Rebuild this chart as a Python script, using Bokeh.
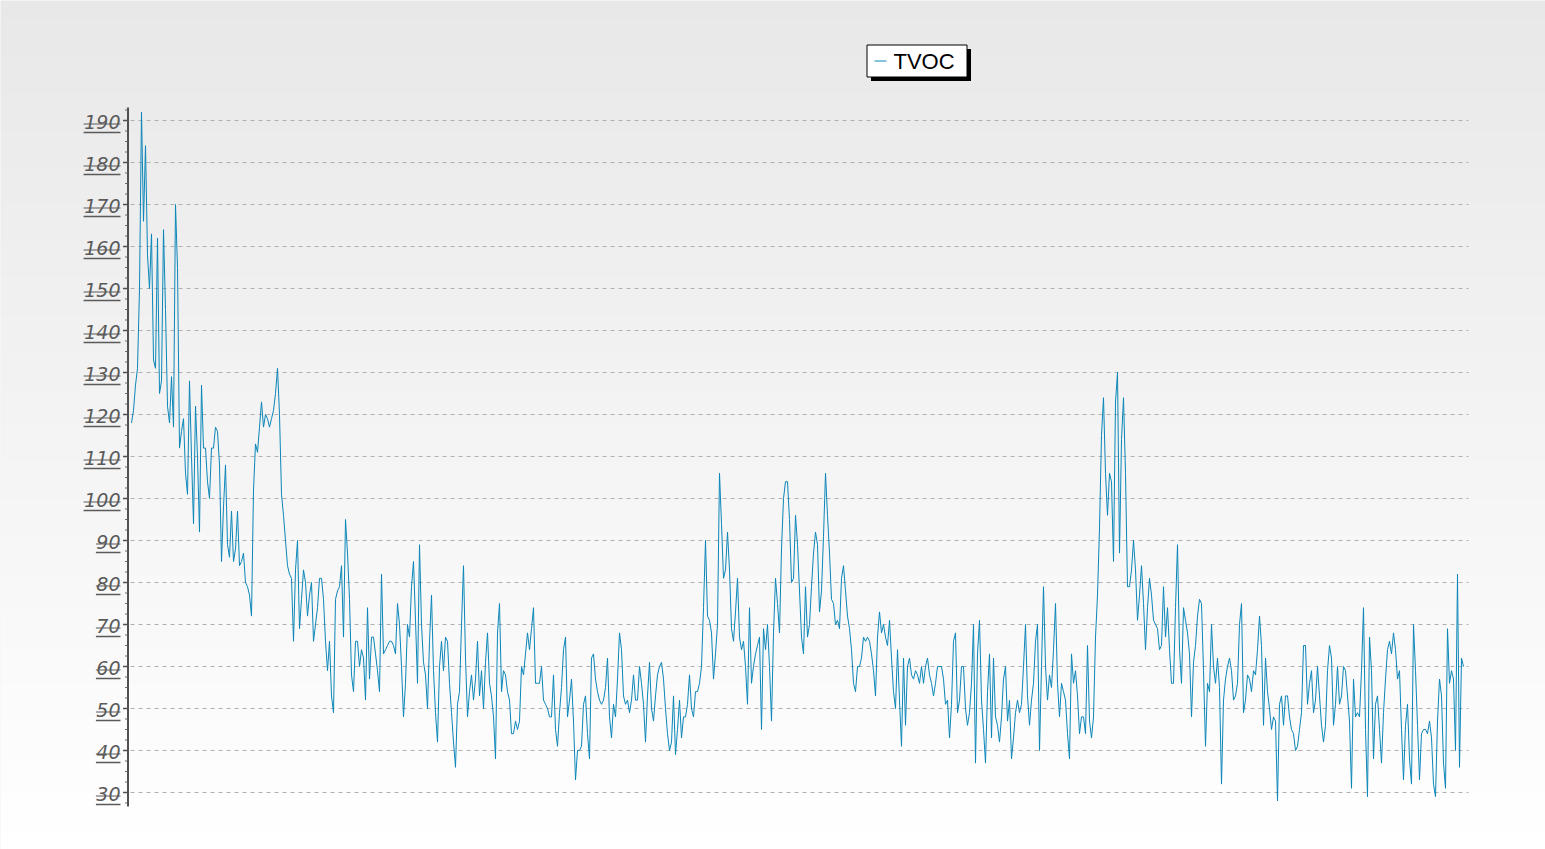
import numpy as np
from bokeh.plotting import figure
from bokeh.models import Range1d
from bokeh.embed import file_html
from bokeh.resources import INLINE
from bokeh.core.properties import value

# ---------------- data ----------------
series_name = "TVOC"

tvoc_part1 = [
    118, 121, 127, 131, 150, 192, 166, 184, 158, 150,
    163, 133, 131, 162, 125, 128, 164, 145, 122, 118,
    129, 117, 170, 155, 112, 116, 119, 106, 101, 128,
    110, 94, 122, 110, 92, 127, 112, 112, 104, 100,
    112, 112, 117, 116, 108, 85, 98, 108, 89, 86,
    97, 85, 88, 97, 84, 85, 87, 80, 79, 77,
    72, 102, 113, 111, 117, 123, 117, 120, 119, 117,
    119, 121, 125, 131, 120, 101, 96, 90, 84,
]
tvoc_part2 = [
    82, 81, 66, 83, 90, 69, 76, 83, 80, 72,
    77, 80, 66, 70, 74, 81, 81, 76, 66, 59,
    66, 53, 49, 76, 78, 79, 84, 67, 95, 87,
    76, 58, 54, 66, 66, 60, 64, 62, 52, 74,
    57, 67, 67, 63, 59, 54, 82, 63, 64, 65,
    66, 66, 65, 63, 75, 70, 60, 48, 56, 70,
    67, 79, 85, 71, 56, 89, 70, 61, 58, 50,
    66, 77, 59, 49, 42, 60, 66, 59, 67, 66,
    56, 49, 42, 36, 51, 54, 70, 84, 62, 48,
    54, 58, 52, 57, 66, 53, 59, 50, 61, 68,
    56, 53, 48, 38, 68, 75, 54, 59, 58, 54,
    52, 44, 44, 47, 45, 47,
]
tvoc_part3 = [
    60, 58, 63, 68, 64, 69, 74, 56, 56, 56,
    60, 52, 51, 50, 48, 48, 58, 45, 41, 49,
    55, 64, 67, 48, 52, 57, 47, 33, 40, 40,
    41, 51, 53, 44, 38, 62, 63, 57, 54, 52,
    51, 52, 55, 62, 48, 43, 51, 48, 57, 68,
    64, 53, 51, 52, 49, 52, 58, 52, 52, 60,
    56, 51, 42, 53, 61, 50, 47, 53, 58, 60,
    61, 57, 50, 44, 40, 42, 53, 39, 45, 52,
    43, 48, 48, 51, 58, 50, 48, 54, 54, 56,
    60, 74, 90, 72, 71, 68, 57, 63, 70, 106,
    94, 81, 83, 92, 83, 69, 66, 73, 81, 67,
]
tvoc_part4 = [
    64, 66, 60, 51, 74, 56, 60, 63, 65, 67,
    45, 69, 64, 70, 60, 47, 68, 81, 75, 68,
    88, 100, 104, 104, 95, 80, 81, 96, 89, 78,
    67, 63, 79, 67, 70, 79, 87, 92, 89, 73,
    78, 91, 106, 96, 87, 76, 75, 70, 71, 69,
    81, 84, 78, 72, 69, 64, 56, 54, 60, 60,
    62, 67, 66, 67, 66, 63, 59, 53, 67, 73,
    68, 70, 67, 65, 71, 62, 54, 50, 64, 52,
    41, 62, 46, 60, 62, 58, 57, 59, 58, 56,
    60, 56, 60, 62, 58, 56, 53, 56, 60, 60,
    60, 57, 51, 52, 43, 51, 66, 68, 49, 52,
    60, 60, 50, 46, 49,
]
tvoc_part5 = [
    56, 70, 37, 63, 71, 52, 45, 37, 54, 63,
    43, 62, 48, 46, 42, 48, 57, 60, 47, 52,
    38, 43, 49, 52, 49, 51, 60, 70, 53, 46,
    52, 56, 66, 70, 40, 60, 79, 60, 52, 58,
    55, 64, 75, 56, 48, 56, 54, 52, 44, 38,
    63, 56, 59, 53, 44, 48, 48, 44, 65, 47,
    43, 48, 67, 77, 93, 115, 124, 106, 96, 106,
    104, 85, 123, 130, 87, 114, 124, 106, 79, 79,
    83, 90, 83, 71, 77, 84, 75, 64, 74, 81,
    77, 71, 70, 69, 64, 65, 79, 67, 74, 64,
    56, 56, 74, 89, 64, 56, 74, 71, 68, 63,
    48, 61, 65, 72, 76,
]
tvoc_part6 = [
    75, 59, 41, 56, 54, 70, 60, 56, 62, 55,
    32, 52, 57, 60, 62, 59, 52, 53, 56, 70,
    75, 49, 52, 58, 57, 54, 59, 58, 64, 72,
    65, 46, 62, 54, 50, 45, 48, 47, 28, 51,
    53, 46, 53, 53, 48, 45, 44, 40, 41, 45,
    49, 65, 65, 51, 56, 59, 49, 52, 60, 53,
    46, 42, 46, 59, 65, 62, 46, 51, 60, 51,
    53, 60, 59, 53, 47, 31, 57, 48, 49, 48,
    59, 74, 45, 29, 67, 59, 38, 51, 53, 45,
    37, 49, 57, 64, 66, 63, 68, 64, 57, 59,
    45, 33, 46, 51, 38, 32, 70, 59, 46, 33,
    44, 45, 45, 44, 47, 43, 32, 29, 47, 57,
    53, 37, 31, 69, 56, 59, 57, 40, 82, 36,
    62, 60,
]

tvoc = tvoc_part1 + tvoc_part2 + tvoc_part3 + tvoc_part4 + tvoc_part5 + tvoc_part6
sample = list(range(len(tvoc)))

y_ticks = [30, 40, 50, 60, 70, 80, 90, 100, 110, 120, 130, 140, 150, 160, 170, 180, 190]
y_tick_labels = [str(t) for t in y_ticks]

# ---------------- layout ----------------
W, H = 1545, 849
PAGE = 0                     # canvas origin on the page
X0_PAGE, DX = 131.0, 2.0     # page x of the first sample, px per sample
Y_REF_PAGE, Y_REF_VAL, PPU = 120.0, 190.0, 4.2


def xd(px):
    return (px - X0_PAGE) / DX


def yd(py):
    return Y_REF_VAL - (py - Y_REF_PAGE) / PPU


p = figure(width=W, height=H,
           x_range=Range1d(xd(PAGE), xd(PAGE + W)),
           y_range=Range1d(yd(PAGE + H), yd(PAGE)),
           output_backend="svg", toolbar_location=None,
           x_axis_type=None, y_axis_type=None,
           min_border=0, outline_line_color=None,
           background_fill_color="#f0f0f0", border_fill_color="#f0f0f0")
p.grid.visible = False

# background gradient (light grey at top -> white at bottom)
rows = 240
img = np.empty((rows, 1), dtype=np.uint32)
view = img.view(dtype=np.uint8).reshape((rows, 1, 4))
for r in range(rows):
    page_y = PAGE + H - (r + 0.5) * H / rows
    g = int(round(232 + 23 * page_y / 849))
    view[r, 0, 0] = g
    view[r, 0, 1] = g
    view[r, 0, 2] = g
    view[r, 0, 3] = 255
p.image_rgba(image=[img], x=xd(PAGE), y=yd(PAGE + H),
             dw=xd(PAGE + W) - xd(PAGE), dh=yd(PAGE) - yd(PAGE + H))

# dashed horizontal grid
n = len(y_ticks)
p.segment(x0=[xd(130)] * n, x1=[xd(1468)] * n, y0=y_ticks, y1=y_ticks,
          line_color="#b0b0b0", line_width=1, line_dash="4 4")

# data line
line_color = "#0b86b8"
p.line(sample, tvoc, line_color=line_color, line_width=1)

# y axis line
ax_col = "#505050"
p.segment(x0=[xd(127.5)], x1=[xd(127.5)], y0=[yd(806)], y1=[yd(107)],
          line_color=ax_col, line_width=2)
# major ticks
p.segment(x0=[xd(122.5)] * n, x1=[xd(127)] * n, y0=y_ticks, y1=y_ticks,
          line_color=ax_col, line_width=1.5)
# minor ticks
lo, hi = yd(806), yd(107)
minor = []
for t in range(20, 200, 10):
    for d in (2.5, 5.0, 7.5):
        v = t + d
        if lo < v < hi:
            minor.append(v)
m = len(minor)
p.segment(x0=[xd(124.5)] * m, x1=[xd(127)] * m, y0=minor, y1=minor,
          line_color="#6a6a6a", line_width=1)

# tick labels (italic, underlined and struck through)
lab_col = "#5a5a5a"
LAB_RIGHT = 120.0
p.text(x=[xd(LAB_RIGHT)] * n, y=[t - 1.0 / PPU for t in y_ticks], text=y_tick_labels,
       text_align="right", text_baseline="middle",
       text_font=value("DejaVu Sans"), text_font_style="italic",
       text_font_size="19px", text_color=lab_col)
lefts = [xd(LAB_RIGHT - 12.3 * len(s)) for s in y_tick_labels]
p.segment(x0=lefts, x1=[xd(LAB_RIGHT)] * n,
          y0=[t - 3.5 / PPU for t in y_ticks], y1=[t - 3.5 / PPU for t in y_ticks],
          line_color=lab_col, line_width=1.2)
p.segment(x0=lefts, x1=[xd(LAB_RIGHT)] * n,
          y0=[t - 12 / PPU for t in y_ticks], y1=[t - 12 / PPU for t in y_ticks],
          line_color=lab_col, line_width=1.5)

# legend box with drop shadow
p.quad(left=[xd(870.5)], right=[xd(970.5)], top=[yd(48.5)], bottom=[yd(80.5)],
       fill_color="black", line_color=None)
p.quad(left=[xd(866.5)], right=[xd(966.5)], top=[yd(44.5)], bottom=[yd(76.5)],
       fill_color="white", line_color="black", line_width=1)
p.segment(x0=[xd(874)], x1=[xd(886)], y0=[yd(60.5)], y1=[yd(60.5)],
          line_color=line_color, line_width=1)
p.text(x=[xd(893)], y=[yd(60.5)], text=[series_name],
       text_align="left", text_baseline="middle",
       text_font=value("Liberation Sans"), text_font_size="22px", text_color="black")

open("out.html", "w").write(file_html(p, INLINE))
